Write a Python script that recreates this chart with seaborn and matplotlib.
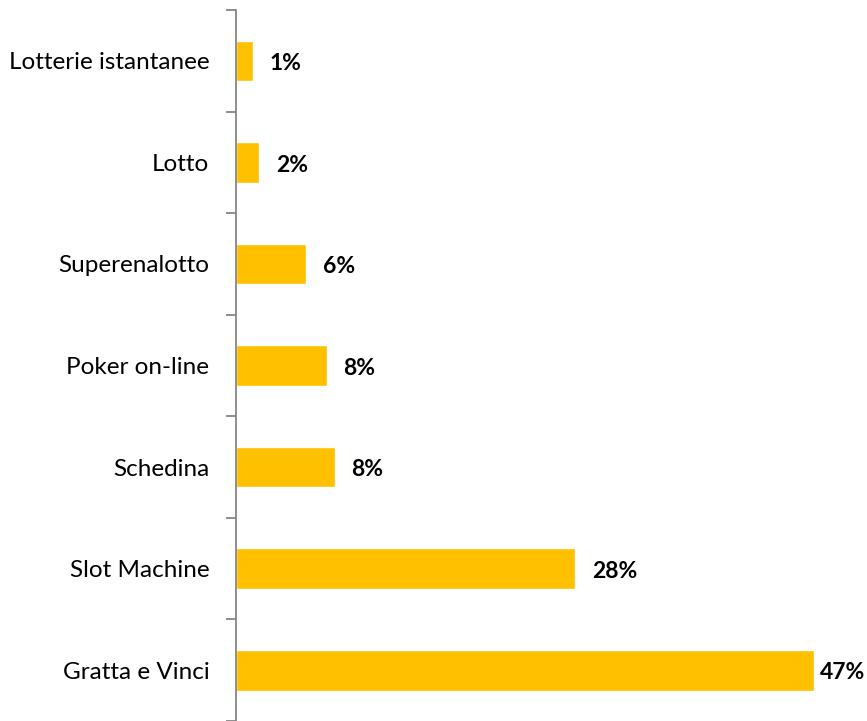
import matplotlib
matplotlib.use('Agg')
import matplotlib.pyplot as plt
from matplotlib.ticker import FixedLocator
import seaborn as sns
import pandas as pd

BAR_COLOR = '#FFC000'
AXIS_COLOR = '#868686'

categories = ['Lotterie istantanee', 'Lotto', 'Superenalotto', 'Poker on-line',
              'Schedina', 'Slot Machine', 'Gratta e Vinci']
shares = [1.4, 1.9, 5.7, 7.4, 8.05, 27.6, 47.0]
labels = ['1%', '2%', '6%', '8%', '8%', '28%', '47%']

df = pd.DataFrame({'gioco': categories, 'quota': shares})

sns.set_style('white')
plt.rcParams['font.family'] = ['Lato', 'DejaVu Sans']

fig = plt.figure(figsize=(8.67, 7.21), dpi=100)
ax = fig.add_axes([0.272, 0.0, 0.728, 0.986])

sns.barplot(data=df, x='quota', y='gioco', orient='h', color=BAR_COLOR,
            width=0.4, saturation=1, ax=ax)

ax.set_xlim(0, 51.3)
ax.set_ylim(6.5, -0.5)
ax.set_xlabel('')
ax.set_ylabel('')
ax.xaxis.set_visible(False)

ax.spines[['top', 'right', 'bottom']].set_visible(False)
ax.spines['left'].set_color(AXIS_COLOR)
ax.spines['left'].set_linewidth(1.3)

ax.tick_params(axis='y', which='major', left=False, length=0, pad=19,
               labelsize=17.5, labelcolor='black')
ax.yaxis.set_minor_locator(FixedLocator([i - 0.5 for i in range(len(categories) + 1)]))
ax.tick_params(axis='y', which='minor', left=True, length=7, width=1.3,
               color=AXIS_COLOR, direction='out')

anns = ax.bar_label(ax.containers[0], labels=labels, padding=12,
                    fontsize=16.5, fontweight='bold', color='black')
for a in anns:
    a.set_verticalalignment('center')
    a.set_position((12, -2))
anns[-1].set_position((4, -2))

fig.savefig('out.png', dpi=100, facecolor='white')
